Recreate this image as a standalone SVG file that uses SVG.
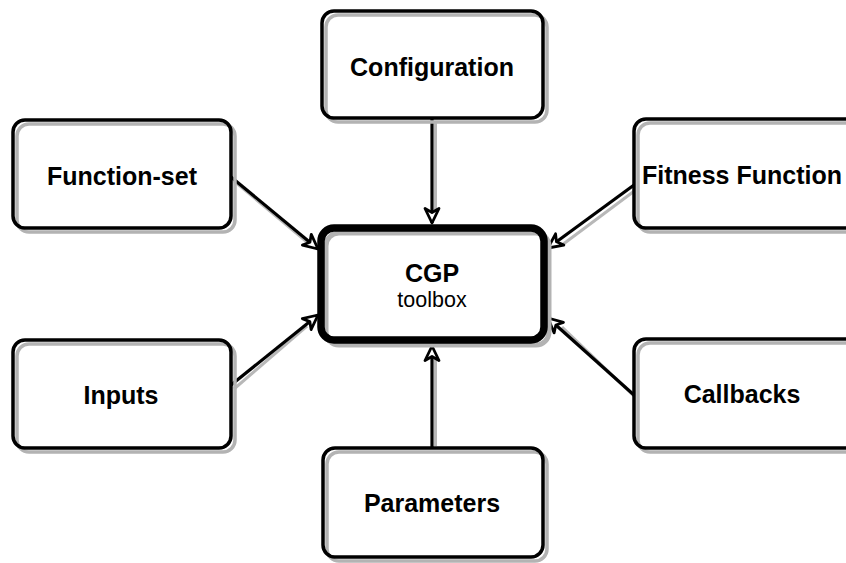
<svg xmlns="http://www.w3.org/2000/svg" width="846" height="563" viewBox="0 0 846 563">
  <style>
    .fill { fill: #ffffff; stroke: none; }
    .shade { fill: none; stroke: #b3b3b3; stroke-width: 3.5; }
    .edge { fill: none; stroke: #000000; stroke-width: 3.5; }
    .edge-main { fill: none; stroke: #000000; stroke-width: 7.5; }
    .shade-main { fill: none; stroke: #b3b3b3; stroke-width: 5; }
    .label { font-family: "Liberation Sans", Arial, Helvetica, sans-serif; font-weight: bold; font-size: 25px; fill: #000000; text-anchor: middle; }
    .sub { font-family: "Liberation Sans", Arial, Helvetica, sans-serif; font-size: 21.5px; fill: #000000; text-anchor: middle; }
    .wire { fill: none; stroke: #000000; stroke-width: 3.2; }
    .wire-shade { fill: none; stroke: #b8b8b8; stroke-width: 3; }
  </style>
  <defs>
    <marker id="head" markerUnits="userSpaceOnUse" viewBox="0 0 20 20" markerWidth="20" markerHeight="20" refX="17" refY="10" orient="auto">
      <path d="M2.5,3 L17,10 L2.5,17 L6.5,10 Z" fill="#ffffff" stroke="#000000" stroke-width="2.8" stroke-linejoin="round"/>
    </marker>
  </defs>

  <rect width="846" height="563" fill="#ffffff"/>

  <!-- connectors -->
  <g id="connectors">
    <!-- soft shadows under the lines -->
    <line class="wire-shade" x1="435.5" y1="121" x2="435.5" y2="212"/>
    <line class="wire-shade" x1="435.5" y1="446" x2="435.5" y2="358"/>
    <line class="wire-shade" x1="234" y1="181" x2="307" y2="242"/>
    <line class="wire-shade" x1="234" y1="389" x2="307" y2="326"/>
    <line class="wire-shade" x1="637" y1="189" x2="562" y2="245"/>
    <line class="wire-shade" x1="637" y1="399" x2="562" y2="327"/>

    <line class="wire" x1="432" y1="118" x2="432" y2="223" marker-end="url(#head)"/>
    <line class="wire" x1="432" y1="448" x2="432" y2="346" marker-end="url(#head)"/>
    <line class="wire" x1="231" y1="177" x2="318" y2="249" marker-end="url(#head)"/>
    <line class="wire" x1="231" y1="385" x2="318" y2="315" marker-end="url(#head)"/>
    <line class="wire" x1="634" y1="185" x2="548" y2="248" marker-end="url(#head)"/>
    <line class="wire" x1="634" y1="395" x2="548" y2="318" marker-end="url(#head)"/>
  </g>

  <!-- Configuration -->
  <g id="configuration">
    <rect class="fill" x="322" y="11" width="221" height="107" rx="12"/>
    <rect class="shade" x="326" y="15" width="221" height="107" rx="12"/>
    <rect class="edge" x="322" y="11" width="221" height="107" rx="12"/>
    <text class="label" x="432" y="76">Configuration</text>
  </g>

  <!-- Function-set -->
  <g id="function-set">
    <rect class="fill" x="13" y="120" width="218" height="108" rx="12"/>
    <rect class="shade" x="17" y="124" width="218" height="108" rx="12"/>
    <rect class="edge" x="13" y="120" width="218" height="108" rx="12"/>
    <text class="label" x="122" y="185">Function-set</text>
  </g>

  <!-- Fitness Function -->
  <g id="fitness-function">
    <rect class="fill" x="634" y="119" width="224" height="109" rx="12"/>
    <rect class="shade" x="638" y="123" width="224" height="109" rx="12"/>
    <rect class="edge" x="634" y="119" width="224" height="109" rx="12"/>
    <text class="label" x="742" y="184">Fitness Function</text>
  </g>

  <!-- Inputs -->
  <g id="inputs">
    <rect class="fill" x="13" y="340" width="218" height="108" rx="12"/>
    <rect class="shade" x="17" y="344" width="218" height="108" rx="12"/>
    <rect class="edge" x="13" y="340" width="218" height="108" rx="12"/>
    <text class="label" x="121" y="404">Inputs</text>
  </g>

  <!-- Callbacks -->
  <g id="callbacks">
    <rect class="fill" x="634" y="339" width="224" height="109" rx="12"/>
    <rect class="shade" x="638" y="343" width="224" height="109" rx="12"/>
    <rect class="edge" x="634" y="339" width="224" height="109" rx="12"/>
    <text class="label" x="742" y="403">Callbacks</text>
  </g>

  <!-- Parameters -->
  <g id="parameters">
    <rect class="fill" x="323" y="448" width="220" height="109" rx="12"/>
    <rect class="shade" x="327" y="452" width="220" height="109" rx="12"/>
    <rect class="edge" x="323" y="448" width="220" height="109" rx="12"/>
    <text class="label" x="432" y="512">Parameters</text>
  </g>

  <!-- CGP toolbox (central node) -->
  <g id="cgp-toolbox">
    <rect class="fill" x="321" y="228" width="223" height="112" rx="13"/>
    <rect class="shade-main" x="326" y="233" width="223" height="112" rx="13"/>
    <rect class="edge-main" x="321" y="228" width="223" height="112" rx="13"/>
    <text class="label" x="432" y="282">CGP</text>
    <text class="sub" x="432" y="307">toolbox</text>
  </g>
</svg>
